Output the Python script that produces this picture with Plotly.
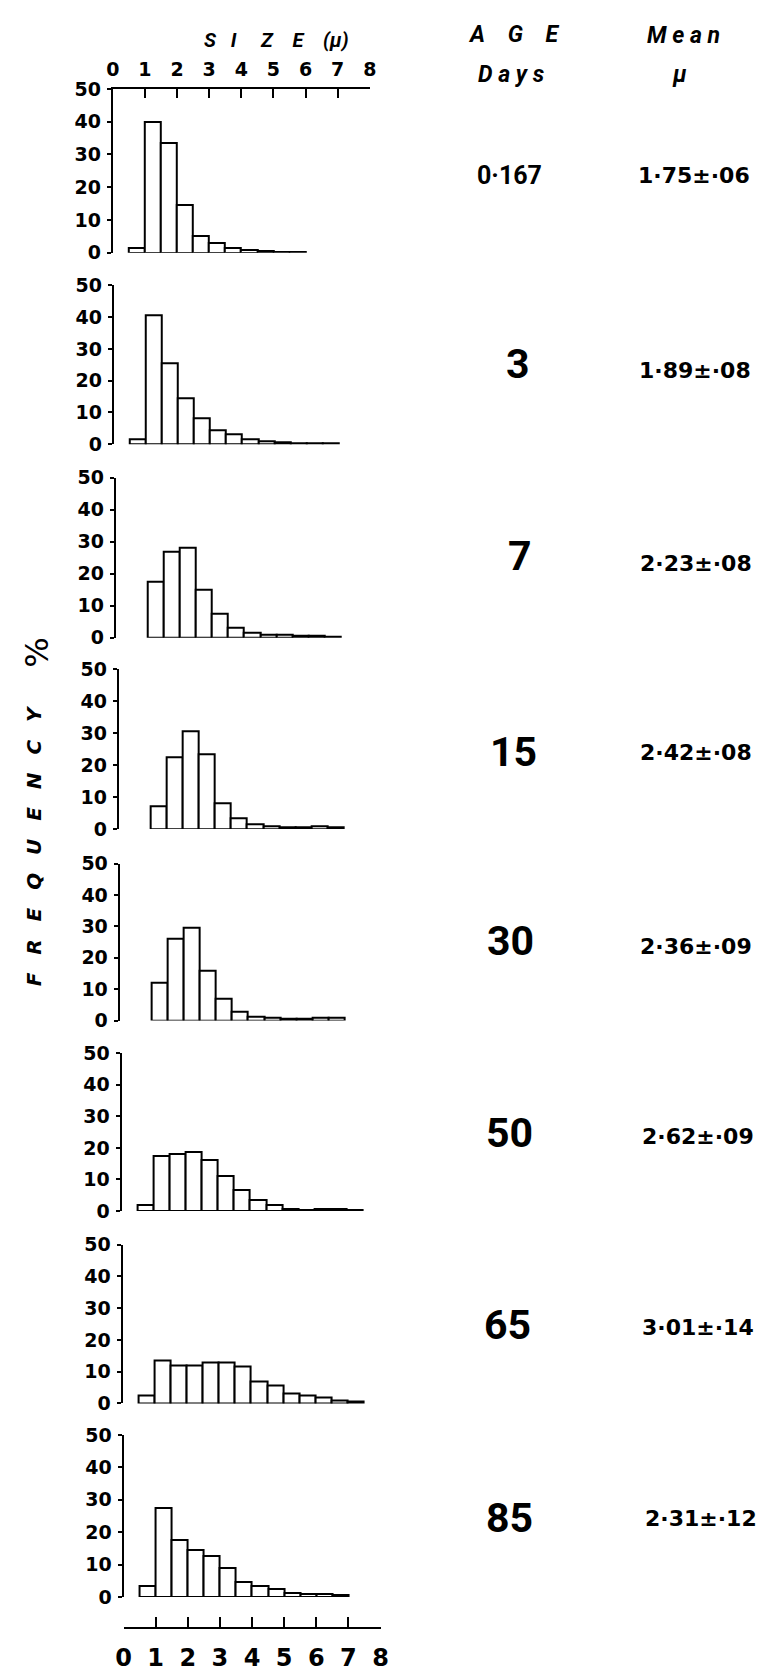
import plotly.graph_objects as go

# ---------------------------------------------------------------- data
# lower edge of each 0.5 µ size class
bin_edges = [0.5, 1.0, 1.5, 2.0, 2.5, 3.0, 3.5, 4.0, 4.5, 5.0, 5.5, 6.0, 6.5, 7.0]

# frequency (%) in each size class; None = class not drawn
freq_day_0167 = [1.5, 40, 33.5, 14.5, 5, 3, 1.5, 0.8, 0.5, 0.4, 0.3, None, None, None]
freq_day_3 = [1.5, 40.5, 25.5, 14.5, 8, 4.5, 3, 1.5, 1.0, 0.6, 0.4, 0.3, 0.3, None]
freq_day_7 = [None, 17.5, 27, 28, 15, 7.5, 3, 1.5, 1.0, 0.8, 0.7, 0.5, 0.3, None]
freq_day_15 = [None, 7, 22.5, 30.5, 23.5, 8, 3.5, 1.5, 0.8, 0.6, 0.5, 0.8, 0.5, None]
freq_day_30 = [None, 12, 26, 29.5, 16, 7, 3, 1.3, 0.8, 0.6, 0.5, 0.8, 0.8, None]
freq_day_50 = [2, 17.5, 18, 18.5, 16, 11, 6.5, 3.5, 2, 0.6, 0.4, 0.5, 0.5, 0.3]
freq_day_65 = [2.5, 13.5, 12, 12, 13, 13, 11.5, 7, 5.5, 3, 2.5, 2, 1, 0.5]
freq_day_85 = [3.5, 27.5, 17.5, 14.5, 12.5, 9, 4.5, 3.5, 2.5, 1.3, 1, 0.8, 0.7, None]

age_labels = ["0·167", "3", "7", "15", "30", "50", "65", "85"]
mean_labels = ["1·75±·06", "1·89±·08", "2·23±·08", "2·42±·08",
               "2·36±·09", "2·62±·09", "3·01±·14", "2·31±·12"]

size_ticks = [0, 1, 2, 3, 4, 5, 6, 7, 8]
freq_ticks = [0, 10, 20, 30, 40, 50]

panels = [freq_day_0167, freq_day_3, freq_day_7, freq_day_15,
          freq_day_30, freq_day_50, freq_day_65, freq_day_85]

# ---------------------------------------------------------------- layout geometry (pixels)
W, H = 773, 1674
axis_left = [107, 108, 110, 113, 114, 116, 117, 118]
panel_top = [79, 278, 473, 667, 864, 1056, 1250, 1443]
panel_bottom = [245, 439, 635, 829, 1023, 1216, 1411, 1607]
unit_w = 32.8
bottom_axis_y = 1639

age_pos = [(512, 167), (521, 358), (523, 552), (516, 751),
           (513, 942), (512, 1137), (510, 1332), (512, 1527)]
age_size = [25, 41, 41, 41, 41, 41, 41, 41]
mean_pos = [(701, 167), (702, 364), (703, 560), (703, 751),
            (703, 948), (705, 1140), (705, 1334), (708, 1528)]


def fx(px):
    return px / W


def fy(py):
    return 1 - py / H


TICK_FONT = dict(family="DejaVu Sans", size=19, color="black", weight="bold")
HEAD_FONT = dict(family="Roboto", size=23, color="black", weight="bold", style="italic")

fig = go.Figure()
layout = dict(
    width=W, height=H,
    margin=dict(l=0, r=0, t=0, b=0),
    paper_bgcolor="white", plot_bgcolor="white",
    showlegend=False, bargap=0,
)

n = len(panels)
for i, vals in enumerate(panels):
    sfx = "" if i == 0 else str(i + 1)
    xs = [e for e, v in zip(bin_edges, vals) if v is not None]
    ys = [v for v in vals if v is not None]
    fig.add_trace(go.Bar(
        x=xs, y=ys, width=0.5, offset=0,
        marker=dict(color="white", line=dict(color="black", width=2)),
        xaxis="x" + sfx, yaxis="y" + sfx, cliponaxis=False,
        hovertemplate="%{x} µ: %{y}%<extra></extra>",
    ))

    left = axis_left[i]
    xa = dict(
        domain=[fx(left), fx(left + 8 * unit_w)], range=[0, 8],
        anchor="y" + sfx, showgrid=False, zeroline=False, fixedrange=True,
    )
    if i == 0:
        xa.update(side="top", showline=True, linecolor="black", linewidth=2,
                  ticks="inside", ticklen=9, tickwidth=2, tickcolor="black",
                  tickvals=size_ticks, ticklabelstandoff=3,
                  tickfont=dict(TICK_FONT, size=19))
    elif i == n - 1:
        xa.update(anchor="free", position=fy(bottom_axis_y), side="bottom",
                  showline=True, linecolor="black", linewidth=2,
                  ticks="inside", ticklen=10, tickwidth=2, tickcolor="black",
                  tickvals=size_ticks, ticklabelstandoff=8,
                  tickfont=dict(TICK_FONT, size=24))
    else:
        xa.update(visible=False)

    ya = dict(
        domain=[fy(panel_bottom[i]), fy(panel_top[i])], range=[0, 50],
        anchor="x" + sfx, showline=True, linecolor="black", linewidth=2,
        ticks="outside", ticklen=4, tickwidth=2, tickcolor="black",
        tickvals=freq_ticks, tickfont=TICK_FONT, ticklabelstandoff=2,
        showgrid=False, zeroline=False, fixedrange=True,
    )
    layout["xaxis" + sfx] = xa
    layout["yaxis" + sfx] = ya

nb = "\u00a0"
thin = "\u2009"
annotations = []


def note(text, x, y, font, angle=0):
    annotations.append(dict(
        text=text, x=fx(x), y=fy(y), xref="paper", yref="paper",
        xanchor="center", yanchor="middle", showarrow=False,
        font=font, textangle=angle,
    ))


# column headings
note(f"S{nb*3}I{nb*5}Z{nb*4}E{nb*4}(µ)", 274, 29, dict(HEAD_FONT, size=20))
note(f"A{nb*4}G{nb*4}E", 516, 24, HEAD_FONT)
note("D a y s", 514, 64, HEAD_FONT)
note("M e a n", 690, 25, HEAD_FONT)
note("µ", 686, 64, HEAD_FONT)

# vertical axis title
note((nb * 2 + thin).join("FREQUENCY"), 26, 846,
     dict(family="DejaVu Sans", size=20, color="black", weight="bold", style="italic"),
     angle=-90)
note("%", 30, 650, dict(family="DejaVu Sans", size=32, color="black"), angle=-90)

# age and mean size for each sample
for lab, (x, y), s in zip(age_labels, age_pos, age_size):
    note(lab, x, y, dict(family="Roboto", size=s, color="black", weight="bold"))
for lab, (x, y) in zip(mean_labels, mean_pos):
    note(lab, x, y, dict(family="DejaVu Sans", size=22, color="black", weight="bold"))

layout["annotations"] = annotations
fig.update_layout(**layout)
fig.write_html("out.html")
